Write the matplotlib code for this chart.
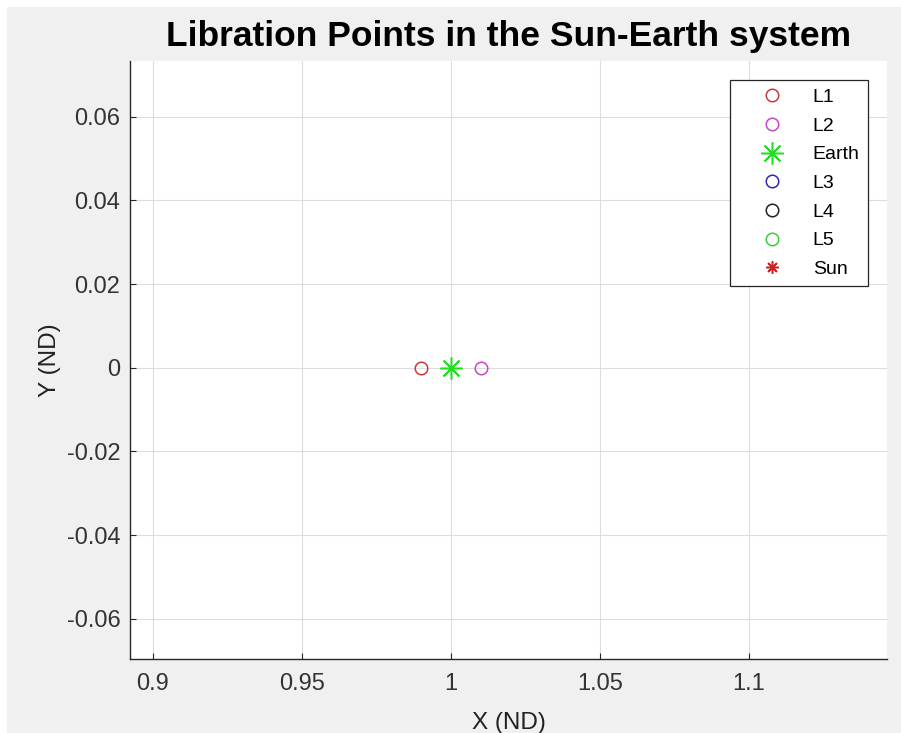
import matplotlib
matplotlib.use('Agg')
import matplotlib.pyplot as plt
from matplotlib.patches import Rectangle

# Libration point positions in the rotating frame (non-dimensional)
names = ['L1', 'L2', 'Earth', 'L3', 'L4', 'L5', 'Sun']
x_pos = [0.98999, 1.01007, 0.999997, -1.000001, 0.499997, 0.499997, -0.000003]
y_pos = [0.0, 0.0, 0.0, 0.0, 0.866025, -0.866025, 0.0]

colors = ['#c83a3a', '#c846c8', '#22dd22', '#2a2ab4', '#202020', '#3ccf3c', '#cc2222']
markers = ['o', 'o', (8, 2, 0), 'o', 'o', 'o', (8, 2, 0)]
sizes = [9, 9, 16, 9, 9, 9, 9]

plt.rcParams['font.family'] = ['Liberation Sans', 'DejaVu Sans']

fig = plt.figure(figsize=(9.01, 7.33), dpi=100)
fig.patch.set_facecolor('white')
# grey window background, thin white border along top and left
fig.patches.append(Rectangle((7 / 901, 0), 1, 1 - 7 / 733, transform=fig.transFigure,
                             facecolor='#f0f0f0', edgecolor='none', zorder=-10))

ax = fig.add_axes([130 / 901, 1 - 659 / 733, (887 - 130) / 901, (659 - 61) / 733])
ax.set_facecolor('white')

for n, xv, yv, c, m, s in zip(names, x_pos, y_pos, colors, markers, sizes):
    ax.plot(xv, yv, linestyle='none', marker=m, markersize=s,
            markerfacecolor='none', markeredgecolor=c, markeredgewidth=1.1,
            label=n)

ax.set_xlim(0.8923, 1.1463)
ax.set_ylim(-0.0696, 0.0733)
ax.set_xticks([0.9, 0.95, 1.0, 1.05, 1.1])
ax.set_xticklabels(['0.9', '0.95', '1', '1.05', '1.1'])
ax.set_yticks([-0.06, -0.04, -0.02, 0, 0.02, 0.04, 0.06])
ax.set_yticklabels(['-0.06', '-0.04', '-0.02', '0', '0.02', '0.04', '0.06'])

ax.grid(True, color='#dcdcdc', linewidth=0.8)
ax.set_axisbelow(True)
for side in ['top', 'right']:
    ax.spines[side].set_visible(False)
for side in ['left', 'bottom']:
    ax.spines[side].set_color('#262626')
    ax.spines[side].set_linewidth(1.0)
ax.tick_params(direction='in', length=4, width=0.8, colors='#262626',
               labelsize=17, labelcolor='#333333')
ax.tick_params(axis='x', pad=10)
ax.tick_params(axis='y', pad=7)

ax.set_xlabel('X (ND)', fontsize=17.5, color='#222222', labelpad=12)
ax.set_ylabel('Y (ND)', fontsize=17.5, color='#222222', labelpad=4)
ax.set_title('Libration Points in the Sun-Earth system', fontsize=25.5,
             fontweight='bold', pad=11)

leg = ax.legend(loc='upper right', bbox_to_anchor=(868 / 901, 1 - 80 / 733),
                bbox_transform=fig.transFigure, borderaxespad=0, fontsize=14,
                frameon=True, fancybox=False, edgecolor='#262626', framealpha=1,
                handletextpad=0.41, labelspacing=0.57, borderpad=0.43,
                handlelength=3.4)
leg.get_frame().set_linewidth(0.9)

fig.savefig('out.png', dpi=100, facecolor=fig.get_facecolor())
